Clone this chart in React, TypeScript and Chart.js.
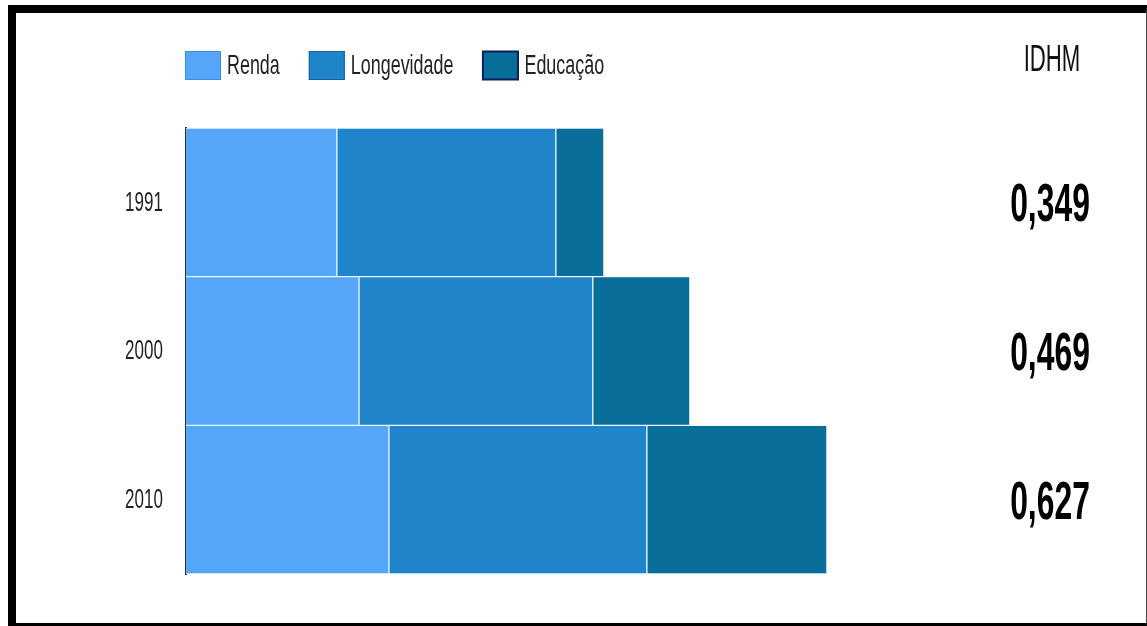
import React, { useEffect, useRef } from "react";
import { Chart, registerables } from "chart.js";

Chart.register(...registerables);

const categories = ["1991", "2000", "2010"];
const seriesNames = ["Renda", "Longevidade", "Educação"];
const renda = [0.449, 0.515, 0.604];
const longevidade = [0.652, 0.696, 0.768];
const educacao = [0.143, 0.289, 0.536];
const idhmLabels = ["0,349", "0,469", "0,627"];
const idhmTitle = "IDHM";
const xMax = 2.2;

const colors = ["#55a5f9", "#2084cb", "#0a6e9b"];
const legendStroke = ["#3a8fe0", "#135f99", "#0a1f5c"];

function drawScaled(
  ctx: CanvasRenderingContext2D,
  text: string,
  x: number,
  y: number,
  sx: number,
  font: string,
  align: CanvasTextAlign
) {
  ctx.save();
  ctx.translate(x, y);
  ctx.scale(sx, 1);
  ctx.font = font;
  ctx.textAlign = align;
  ctx.textBaseline = "middle";
  ctx.fillText(text, 0, 0);
  ctx.restore();
}

const overlayPlugin = {
  id: "overlay",
  afterDraw(chart: any) {
    const ctx: CanvasRenderingContext2D = chart.ctx;
    const yScale = chart.scales.y;
    ctx.save();
    // category labels
    ctx.fillStyle = "#222";
    categories.forEach((c, i) => {
      const py = yScale.getPixelForValue(i);
      drawScaled(ctx, c, 144, py + 1, 0.63, '27px "Liberation Sans", Arial, sans-serif', "center");
    });
    // legend
    let x = 185;
    const boxW = 36;
    const boxTop = 51;
    const boxH = 29;
    const sx = 0.64;
    const lfont = '28px "Liberation Sans", Arial, sans-serif';
    seriesNames.forEach((name, i) => {
      ctx.fillStyle = colors[i];
      ctx.fillRect(x, boxTop, boxW, boxH);
      ctx.strokeStyle = legendStroke[i];
      ctx.lineWidth = i === 2 ? 2 : 1;
      ctx.strokeRect(x + 0.5, boxTop + 0.5, boxW - 1, boxH - 1);
      ctx.fillStyle = "#222";
      const tx = x + boxW + 6;
      drawScaled(ctx, name, tx, boxTop + boxH / 2 + 1, sx, lfont, "left");
      ctx.font = lfont;
      const w = ctx.measureText(name).width * sx;
      x = tx + w + 29;
    });
    // IDHM column
    ctx.fillStyle = "#111";
    drawScaled(ctx, idhmTitle, 1052, 61, 0.6, '37px "Liberation Sans", Arial, sans-serif', "center");
    ctx.fillStyle = "#000";
    idhmLabels.forEach((v, i) => {
      const py = yScale.getPixelForValue(i);
      drawScaled(ctx, v, 1050, py + 4, 0.59, 'bold 54px "Liberation Sans", Arial, sans-serif', "center");
    });
    ctx.restore();
  },
};

export default function App() {
  const ref = useRef<HTMLCanvasElement | null>(null);
  useEffect(() => {
    if (!ref.current) return;
    const mk = (label: string, data: number[], i: number) => ({
      label,
      data,
      backgroundColor: colors[i],
      borderColor: "#eaf8ff",
      borderWidth: i === 0 ? { left: 0, right: 1, top: 1, bottom: 1 } : 1,
      borderSkipped: false as any,
      barPercentage: 1,
      categoryPercentage: 1,
    });
    const chart = new Chart(ref.current, {
      type: "bar",
      data: {
        labels: categories,
        datasets: [
          mk(seriesNames[0], renda, 0),
          mk(seriesNames[1], longevidade, 1),
          mk(seriesNames[2], educacao, 2),
        ],
      },
      options: {
        indexAxis: "y",
        responsive: false,
        animation: false,
        layout: { padding: { left: 186, right: 222, top: 128, bottom: 52 } },
        plugins: {
          legend: { display: false },
          tooltip: { enabled: false },
          title: { display: false },
        },
        scales: {
          x: { stacked: true, min: 0, max: xMax, display: false },
          y: {
            stacked: true,
            display: true,
            ticks: { display: false },
            grid: { display: false, drawTicks: false },
            border: { display: true, color: "#333", width: 2 },
            afterFit: (s: any) => {
              s.width = 0;
            },
          },
        },
      },
      plugins: [overlayPlugin],
    });
    return () => chart.destroy();
  }, []);
  return (
    <div style={{ position: "fixed", left: 0, top: 0, width: 1147, height: 626, background: "#fff" }}>
      <canvas ref={ref} width={1147} height={626} style={{ position: "absolute", left: 0, top: 0, width: 1147, height: 626 }} />
      <div
        style={{
          position: "absolute",
          left: 8,
          top: 5,
          width: 1139,
          height: 621,
          boxSizing: "border-box",
          borderLeft: "8px solid #000",
          borderTop: "8px solid #000",
          borderRight: "1px solid #444",
          borderBottom: "3px solid #000",
          pointerEvents: "none",
        }}
      />
    </div>
  );
}
